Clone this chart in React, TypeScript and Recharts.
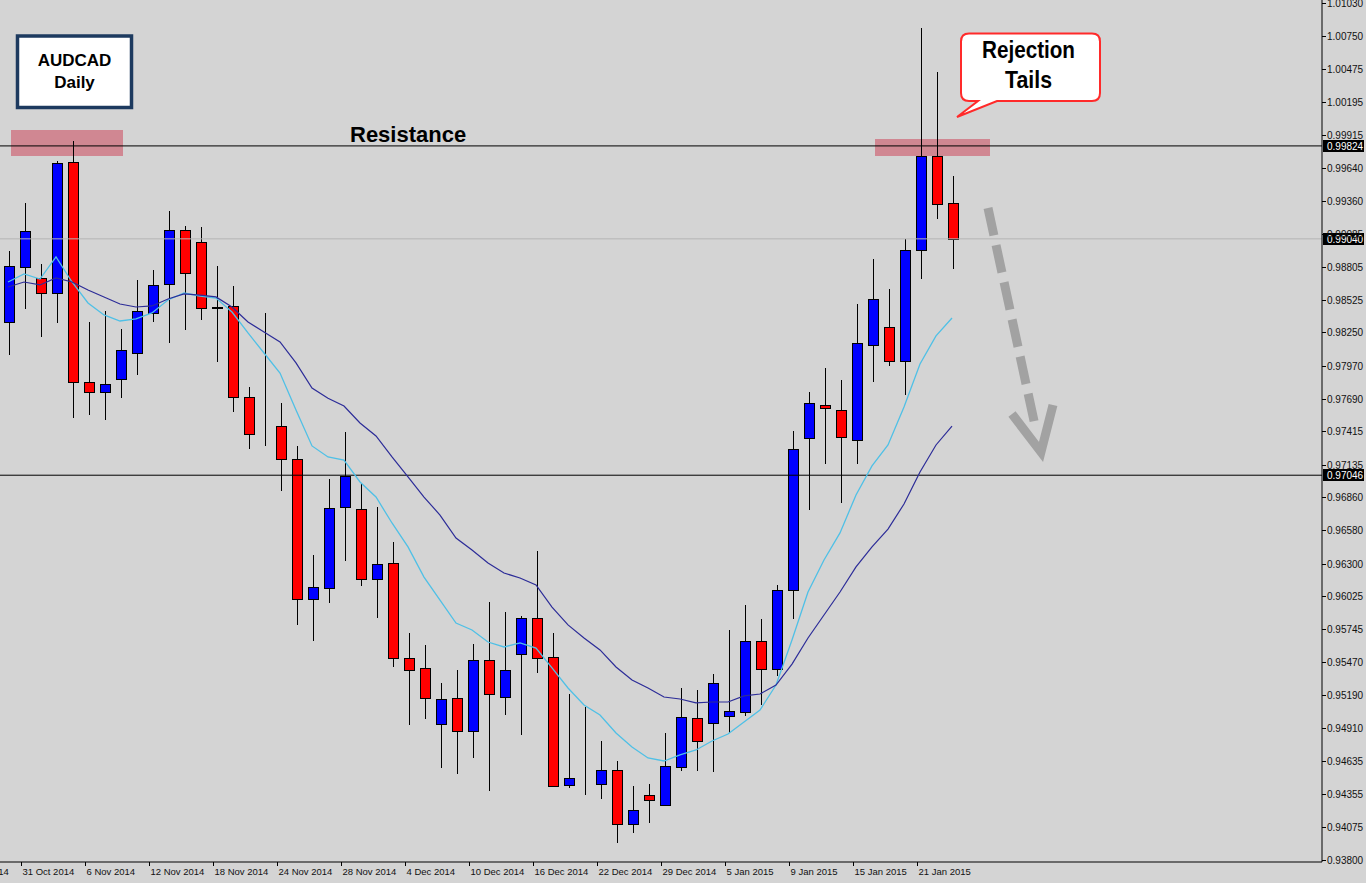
import React from 'react';
import { ComposedChart, Bar, Line, XAxis, YAxis, ReferenceLine } from 'recharts';

// ---- data (AUDCAD daily) ----
const dates = [
  '30 Oct 2014', '31 Oct 2014', '3 Nov 2014', '4 Nov 2014', '5 Nov 2014', '6 Nov 2014', '7 Nov 2014',
  '10 Nov 2014', '11 Nov 2014', '12 Nov 2014', '13 Nov 2014', '14 Nov 2014', '17 Nov 2014', '18 Nov 2014',
  '19 Nov 2014', '20 Nov 2014', '21 Nov 2014', '24 Nov 2014', '25 Nov 2014', '26 Nov 2014', '27 Nov 2014',
  '28 Nov 2014', '1 Dec 2014', '2 Dec 2014', '3 Dec 2014', '4 Dec 2014', '5 Dec 2014', '8 Dec 2014',
  '9 Dec 2014', '10 Dec 2014', '11 Dec 2014', '12 Dec 2014', '15 Dec 2014', '16 Dec 2014', '17 Dec 2014',
  '18 Dec 2014', '19 Dec 2014', '22 Dec 2014', '23 Dec 2014', '24 Dec 2014', '26 Dec 2014', '29 Dec 2014',
  '30 Dec 2014', '31 Dec 2014', '2 Jan 2015', '5 Jan 2015', '6 Jan 2015', '7 Jan 2015', '8 Jan 2015',
  '9 Jan 2015', '12 Jan 2015', '13 Jan 2015', '14 Jan 2015', '15 Jan 2015', '16 Jan 2015', '19 Jan 2015',
  '20 Jan 2015', '21 Jan 2015', '22 Jan 2015', '23 Jan 2015',
];

const opens = [
  0.98339, 0.98803, 0.98710, 0.98583, 0.99688, 0.97831, 0.97747, 0.97858, 0.98077, 0.98415,
  0.98659, 0.99115, 0.99013, 0.98457, 0.98474, 0.97705, 0.97394, 0.97461, 0.97183, 0.96002,
  0.96095, 0.96778, 0.96761, 0.96171, 0.96306, 0.95504, 0.95420, 0.94947, 0.95167, 0.94888,
  0.95487, 0.95175, 0.95538, 0.95842, 0.95513, 0.94433, 0.94492, 0.94441, 0.94559, 0.94104,
  0.94348, 0.94264, 0.94585, 0.94998, 0.94956, 0.95015, 0.95049, 0.95648, 0.95411, 0.96078,
  0.97360, 0.97638, 0.97596, 0.97343, 0.98145, 0.98296, 0.98010, 0.98946, 0.99739, 0.99343,
];
const highs = [
  0.98938, 0.99343, 0.98828, 0.99697, 0.99866, 0.98339, 0.98431, 0.98280, 0.98693, 0.98777,
  0.99275, 0.99148, 0.99140, 0.98811, 0.98642, 0.97789, 0.98415, 0.97655, 0.97293, 0.96373,
  0.97014, 0.97411, 0.96980, 0.96778, 0.96483, 0.95715, 0.95614, 0.95293, 0.95403, 0.95622,
  0.95977, 0.95892, 0.95858, 0.96407, 0.95715, 0.95200, 0.95091, 0.94804, 0.94635, 0.94424,
  0.94441, 0.94871, 0.95251, 0.95234, 0.95369, 0.95740, 0.95951, 0.95833, 0.96120, 0.97419,
  0.97747, 0.97951, 0.97849, 0.98490, 0.98870, 0.98617, 0.99039, 1.00819, 1.00448, 0.99570,
];
const lows = [
  0.98060, 0.98448, 0.98212, 0.98330, 0.97529, 0.97554, 0.97512, 0.97696, 0.97892, 0.98339,
  0.98162, 0.98271, 0.98355, 0.98001, 0.97579, 0.97267, 0.97293, 0.96913, 0.95783, 0.95648,
  0.95968, 0.96322, 0.96112, 0.95842, 0.95428, 0.94939, 0.94990, 0.94576, 0.94526, 0.94661,
  0.94382, 0.95023, 0.94855, 0.95378, 0.94416, 0.94407, 0.94348, 0.94315, 0.93944, 0.94028,
  0.94112, 0.94256, 0.94551, 0.94551, 0.94542, 0.94871, 0.95015, 0.95108, 0.95352, 0.95833,
  0.96753, 0.97141, 0.96812, 0.97141, 0.97831, 0.97967, 0.97722, 0.98701, 0.99208, 0.98786,
];
const closes = [
  0.98811, 0.99106, 0.98583, 0.99680, 0.97831, 0.97747, 0.97814, 0.98102, 0.98431, 0.98651,
  0.99115, 0.98752, 0.98457, 0.98465, 0.97705, 0.97394, 0.97394, 0.97183, 0.96002, 0.96103,
  0.96770, 0.97040, 0.96171, 0.96297, 0.95504, 0.95403, 0.95167, 0.95158, 0.94888, 0.95487,
  0.95200, 0.95403, 0.95842, 0.95504, 0.94424, 0.94492, 0.94492, 0.94559, 0.94104, 0.94222,
  0.94306, 0.94593, 0.95006, 0.94804, 0.95293, 0.95057, 0.95648, 0.95411, 0.96078, 0.97267,
  0.97655, 0.97613, 0.97369, 0.98162, 0.98533, 0.98010, 0.98946, 0.99739, 0.99334, 0.99040,
];
const emaFast = [
  0.98676, 0.98744, 0.98701, 0.98887, 0.98676, 0.98499, 0.98398, 0.98347, 0.98364, 0.98415,
  0.98524, 0.98583, 0.98558, 0.98541, 0.98423, 0.98246, 0.98077, 0.97908, 0.97596, 0.97293,
  0.97200, 0.97174, 0.96989, 0.96862, 0.96643, 0.96441, 0.96187, 0.95993, 0.95799, 0.95740,
  0.95639, 0.95597, 0.95631, 0.95588, 0.95420, 0.95251, 0.95108, 0.95023, 0.94871, 0.94753,
  0.94661, 0.94635, 0.94686, 0.94728, 0.94804, 0.94863, 0.94964, 0.95065, 0.95276, 0.95656,
  0.96061, 0.96331, 0.96559, 0.96879, 0.97124, 0.97301, 0.97622, 0.97984, 0.98221, 0.98372,
];
const emaSlow = [
  0.98634, 0.98676, 0.98651, 0.98710, 0.98676, 0.98609, 0.98550, 0.98490, 0.98465, 0.98474,
  0.98533, 0.98575, 0.98566, 0.98550, 0.98465, 0.98339, 0.98254, 0.98170, 0.97993, 0.97782,
  0.97696, 0.97630, 0.97487, 0.97377, 0.97200, 0.97031, 0.96862, 0.96710, 0.96516, 0.96415,
  0.96306, 0.96221, 0.96179, 0.96120, 0.95934, 0.95783, 0.95673, 0.95572, 0.95428, 0.95319,
  0.95251, 0.95175, 0.95158, 0.95125, 0.95133, 0.95133, 0.95184, 0.95200, 0.95276, 0.95453,
  0.95673, 0.95867, 0.96061, 0.96272, 0.96441, 0.96592, 0.96803, 0.97073, 0.97301, 0.97461,
];

const dateAxisLabels = [
  '31 Oct 2014', '6 Nov 2014', '12 Nov 2014', '18 Nov 2014', '24 Nov 2014', '28 Nov 2014',
  '4 Dec 2014', '10 Dec 2014', '16 Dec 2014', '22 Dec 2014', '29 Dec 2014', '5 Jan 2015',
  '9 Jan 2015', '15 Jan 2015', '21 Jan 2015',
];
const priceTicks = [
  1.01030, 1.00750, 1.00475, 1.00195, 0.99915, 0.99640, 0.99360, 0.99085, 0.98805, 0.98525,
  0.98250, 0.97970, 0.97690, 0.97415, 0.97135, 0.96860, 0.96580, 0.96300, 0.96025, 0.95745,
  0.95470, 0.95190, 0.94910, 0.94635, 0.94355, 0.94075, 0.93800,
];
const priceDomain = [0.93783, 1.01055];
const resistanceLevel = 0.99824;
const supportLevel = 0.97046;
const bidLevel = 0.99040;

const data = dates.map((date, i) => ({
  date,
  open: opens[i],
  high: highs[i],
  low: lows[i],
  close: closes[i],
  emaFast: emaFast[i],
  emaSlow: emaSlow[i],
}));

const labelSet = new Set(dateAxisLabels);
const FONT = '"Liberation Sans", Arial, sans-serif';

const Candle = (props: any) => {
  const { x, y, width, height, payload } = props;
  if (x == null || y == null || !payload) return <g />;
  const { open, close, high, low } = payload;
  const top = Math.min(y, y + height);
  const h = Math.abs(height);
  const k = h / (high - low);
  const py = (v: number) => top + (high - v) * k;
  const cx = Math.round(x + width / 2);
  const yO = py(open);
  const yC = py(close);
  const bTop = Math.round(Math.min(yO, yC));
  const bBot = Math.round(Math.max(yO, yC));
  const fill = close > open ? '#0000ff' : close < open ? '#ff0000' : '#000000';
  return (
    <g>
      <line x1={cx + 0.5} x2={cx + 0.5} y1={Math.round(top)} y2={Math.round(top + h)} stroke="#000" strokeWidth={1} shapeRendering="crispEdges" />
      <rect x={cx - 4.5} y={bTop + 0.5} width={10} height={Math.max(0, bBot - bTop)} fill={fill} stroke="#000" strokeWidth={1} shapeRendering="crispEdges" />
    </g>
  );
};

const PriceTick = (props: any) => {
  const { x, y, payload } = props;
  const yy = Math.round(y) + 0.5;
  return (
    <g>
      <line x1={x} x2={x + 4} y1={yy} y2={yy} stroke="#000" strokeWidth={1} />
      <text x={x + 5} y={y + 4} fontSize={10} fontFamily={FONT} fill="#111">{Number(payload.value).toFixed(5)}</text>
    </g>
  );
};

const DateTick = (props: any) => {
  const { x, y, payload } = props;
  if (!labelSet.has(payload.value)) return <g />;
  const tx = Math.round(x) - 2.5;
  return (
    <g>
      <line x1={tx} x2={tx} y1={y} y2={y + 4} stroke="#000" strokeWidth={1} />
      <text x={x - 1.5} y={y + 13} fontSize={9.5} fontFamily={FONT} fill="#111">{payload.value}</text>
    </g>
  );
};

const PriceTag = (props: any) => {
  const { viewBox, value } = props;
  if (!viewBox) return <g />;
  const x = viewBox.x + viewBox.width + 1;
  const y = Math.round(viewBox.y);
  return (
    <g>
      <rect x={x} y={y - 6} width={41} height={12} fill="#000" />
      <text x={x + 4} y={y + 4} fontSize={10} fontFamily={FONT} fill="#fff">{value}</text>
    </g>
  );
};

export default function App() {
  return (
    <div style={{ position: 'absolute', left: 0, top: 0, width: 1366, height: 883, background: '#d4d4d4', overflow: 'hidden' }}>
      <svg width={1366} height={883} style={{ position: 'absolute', left: 0, top: 0 }}>
        <rect x={11} y={130} width={112} height={26} fill="#d08792" />
        <rect x={875} y={139} width={115} height={17} fill="#d08792" />
        <text x={-43} y={875} fontSize={9.5} fontFamily={FONT} fill="#111">27 Oct 2014</text>
      </svg>
      <div style={{ position: 'absolute', left: 0, top: 0 }}>
        <ComposedChart width={1366} height={883} data={data} margin={{ top: 0, right: 0, bottom: 0, left: 0 }}>
          <XAxis
            dataKey="date"
            interval={0}
            height={21}
            padding={{ left: 0, right: 362 }}
            tickLine={false}
            tickSize={0}
            tickMargin={0}
            axisLine={{ stroke: '#000' }}
            tick={<DateTick />}
          />
          <YAxis
            orientation="right"
            width={44}
            type="number"
            domain={priceDomain}
            allowDataOverflow
            ticks={priceTicks}
            interval={0}
            tickLine={false}
            tickSize={0}
            tickMargin={0}
            axisLine={{ stroke: '#000' }}
            tick={<PriceTick />}
          />
          <ReferenceLine y={bidLevel} stroke="#b4b4b4" strokeWidth={1} label={<PriceTag value="0.99040" />} />
          <ReferenceLine y={resistanceLevel} stroke="#000" strokeWidth={1} label={<PriceTag value="0.99824" />} />
          <ReferenceLine y={supportLevel} stroke="#000" strokeWidth={1} label={<PriceTag value="0.97046" />} />
          <Bar dataKey={(d: any) => [d.low, d.high]} barSize={11} shape={<Candle />} activeBar={false} isAnimationActive={false} />
          <Line type="linear" dataKey="emaFast" stroke="#4fc0e6" strokeWidth={1.3} dot={false} activeDot={false} isAnimationActive={false} />
          <Line type="linear" dataKey="emaSlow" stroke="#2c2c98" strokeWidth={1.2} dot={false} activeDot={false} isAnimationActive={false} />
        </ComposedChart>
      </div>
      <svg width={1366} height={883} style={{ position: 'absolute', left: 0, top: 0, pointerEvents: 'none' }}>
        <rect x={17.5} y={36} width={114} height={71.5} fill="#fff" stroke="#1d3a5f" strokeWidth={3.5} />
        <text x={74.5} y={66} textAnchor="middle" fontSize={17} fontWeight="bold" fontFamily={FONT} fill="#000">AUDCAD</text>
        <text x={74.5} y={88} textAnchor="middle" fontSize={17} fontWeight="bold" fontFamily={FONT} fill="#000">Daily</text>
        <text x={350} y={142} fontSize={22} fontWeight="bold" fontFamily={FONT} fill="#000">Resistance</text>
        <path
          d="M 969 33.5 H 1092 Q 1100 33.5 1100 41.5 V 93 Q 1100 101 1092 101 H 997 L 957 117 L 978 101 H 969 Q 961 101 961 93 V 41.5 Q 961 33.5 969 33.5 Z"
          fill="#fff"
          stroke="#ff2a2a"
          strokeWidth={2}
        />
        <text x={1028.5} y={58} textAnchor="middle" fontSize={24} fontWeight="bold" fontFamily='"Liberation Sans Narrow", "Liberation Sans", Arial, sans-serif' fill="#000" textLength={93} lengthAdjust="spacingAndGlyphs">Rejection</text>
        <text x={1028.5} y={88} textAnchor="middle" fontSize={24} fontWeight="bold" fontFamily='"Liberation Sans Narrow", "Liberation Sans", Arial, sans-serif' fill="#000" textLength={47} lengthAdjust="spacingAndGlyphs">Tails</text>
        <line x1={988} y1={208} x2={1036} y2={430} stroke="#a2a2a2" strokeWidth={9} strokeDasharray="28 10" />
        <polyline points="1012,414 1041,452 1053,405" fill="none" stroke="#a2a2a2" strokeWidth={9} strokeLinejoin="miter" />
      </svg>
    </div>
  );
}
